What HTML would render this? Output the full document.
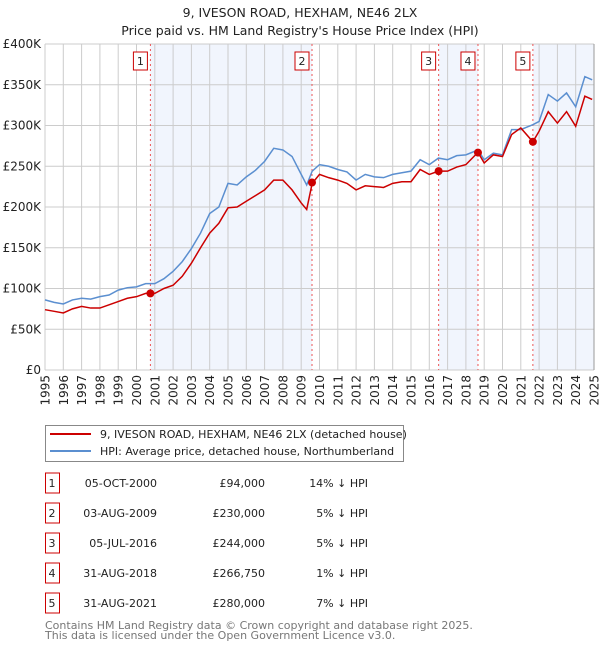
<!DOCTYPE html>
<html><head><meta charset="utf-8"><style>
body{margin:0;background:#fff;font-family:"DejaVu Sans","Liberation Sans",sans-serif;}
svg text{font-family:"DejaVu Sans","Liberation Sans",sans-serif;}
</style></head><body>
<svg id="chart" width="600" height="650" xmlns="http://www.w3.org/2000/svg">
<text x="300" y="17" text-anchor="middle" font-size="12.5" fill="#222">9, IVESON ROAD, HEXHAM, NE46 2LX</text>
<text x="300" y="35" text-anchor="middle" font-size="12.5" fill="#222">Price paid vs. HM Land Registry's House Price Index (HPI)</text>
<g id="plot"></g>
<g>
<rect x="45.5" y="425.5" width="358" height="36" fill="#fff" stroke="#888"/>
<line x1="50" y1="434" x2="91" y2="434" stroke="#cc0000" stroke-width="2"/>
<text x="100" y="438" font-size="11" fill="#222">9, IVESON ROAD, HEXHAM, NE46 2LX (detached house)</text>
<line x1="50" y1="451" x2="91" y2="451" stroke="#5b8fd0" stroke-width="2"/>
<text x="100" y="455" font-size="11" fill="#222">HPI: Average price, detached house, Northumberland</text>
</g>
<g id="table" font-size="11" fill="#222"></g>
<text x="45" y="629" font-size="11" fill="#777">Contains HM Land Registry data © Crown copyright and database right 2025.</text>
<text x="45" y="639" font-size="11" fill="#777">This data is licensed under the Open Government Licence v3.0.</text>
</svg>
<script>
const hpiYears=[1995,1995.5,1996,1996.5,1997,1997.5,1998,1998.5,1999,1999.5,2000,2000.5,2001,2001.5,2002,2002.5,2003,2003.5,2004,2004.5,2005,2005.5,2006,2006.5,2007,2007.5,2008,2008.5,2009,2009.3,2009.6,2010,2010.5,2011,2011.5,2012,2012.5,2013,2013.5,2014,2014.5,2015,2015.5,2016,2016.5,2017,2017.5,2018,2018.66,2019,2019.5,2020,2020.5,2021,2021.66,2022,2022.5,2023,2023.5,2024,2024.5,2024.9];
const hpiValues=[86000,83000,81000,86000,88000,87000,90000,92000,98000,101000,102000,106000,106000,112000,121000,133000,149000,168000,192000,200000,229000,227000,237000,245000,256000,272000,270000,262000,240000,227000,244000,252000,250000,246000,243000,233000,240000,237000,236000,240000,242000,244000,258000,252000,260000,258000,263000,264000,270000,258000,266000,264000,295000,295000,301000,305000,338000,330000,340000,323000,360000,356000];
const priceYears=hpiYears;
const priceValues=[74000,72000,70000,75000,78000,76000,76000,80000,84000,88000,90000,94000,94000,100000,104000,115000,131000,150000,168000,180000,199000,200000,207000,214000,221000,233000,233000,221000,205000,197000,229000,240000,236000,233000,229000,221000,226000,225000,224000,229000,231000,231000,246000,240000,244000,244000,249000,252000,267000,254000,264000,262000,289000,297000,280000,293000,317000,303000,317000,299000,336000,332000];
const saleNums=["1","2","3","4","5"];
const saleYears=[2000.76,2009.59,2016.51,2018.66,2021.66];
const saleValues=[94000,230000,244000,266750,280000];
const saleDates=["05-OCT-2000","03-AUG-2009","05-JUL-2016","31-AUG-2018","31-AUG-2021"];
const salePrices=["£94,000","£230,000","£244,000","£266,750","£280,000"];
const salePcts=["14% ↓ HPI","5% ↓ HPI","5% ↓ HPI","1% ↓ HPI","7% ↓ HPI"];
const yTicks=[0,50000,100000,150000,200000,250000,300000,350000,400000];
const yTickLabels=["£0","£50K","£100K","£150K","£200K","£250K","£300K","£350K","£400K"];
const xTicks=[1995,1996,1997,1998,1999,2000,2001,2002,2003,2004,2005,2006,2007,2008,2009,2010,2011,2012,2013,2014,2015,2016,2017,2018,2019,2020,2021,2022,2023,2024,2025];

const L=45,R=594,T=44,B=370;
const x=v=>L+(v-1995)/30*(R-L);
const y=v=>B-v/400000*(B-T);
const NS="http://www.w3.org/2000/svg";
const plot=document.getElementById('plot');
function mk(tag,attrs,parent){const e=document.createElementNS(NS,tag);for(const k in attrs)e.setAttribute(k,attrs[k]);(parent||plot).appendChild(e);return e;}

const spans=[[0,1],[2,3],[4,null]];
spans.forEach(s=>{
  const x0=x(saleYears[s[0]]),x1=s[1]===null?R:x(saleYears[s[1]]);
  const r=mk('rect',{x:x0,y:T,width:x1-x0,height:B-T,fill:'#eef3fd',opacity:0.8});
  
  
});
xTicks.forEach(t=>{
  const l=mk('line',{x1:x(t),x2:x(t),y1:T,y2:B,stroke:'#ccc','stroke-width':1});
  
  
  const px=x(t)+4.5,py=B+5;
  const tx=mk('text',{x:px,y:py,'text-anchor':'end','font-size':12,fill:'#222',transform:'rotate(-90 '+px+' '+py+')'});
  tx.textContent=t;
  
  
});
yTicks.forEach((t,i)=>{
  const l=mk('line',{x1:L,x2:R,y1:y(t),y2:y(t),stroke:'#ccc','stroke-width':1});
  
  
  const tx=mk('text',{x:L-4,y:y(t)+4,'text-anchor':'end','font-size':12,fill:'#222'});
  tx.textContent=yTickLabels[i];
  
  
});
mk('line',{x1:R,x2:R,y1:T,y2:B,stroke:'#999','stroke-width':1});
saleYears.forEach((s,i)=>{
  const l=mk('line',{x1:x(s),x2:x(s),y1:T,y2:B,stroke:'#ee5555','stroke-width':1,'stroke-dasharray':'2,3'});
  
  
  const bx=x(s)-10;
  const r=mk('rect',{x:bx-7,y:52,width:14,height:18,fill:'#fff',stroke:'#cc0000'});
  
  
  const t=mk('text',{x:bx,y:65,'text-anchor':'middle','font-size':11,fill:'#222'});
  t.textContent=saleNums[i];
  
  
});
const hp=mk('polyline',{points:hpiYears.map((v,i)=>x(v)+','+y(hpiValues[i])).join(' '),fill:'none',stroke:'#5b8fd0','stroke-width':1.5});


const pp=mk('polyline',{points:priceYears.map((v,i)=>x(v)+','+y(priceValues[i])).join(' '),fill:'none',stroke:'#cc0000','stroke-width':1.5});


saleYears.forEach((s,i)=>{
  const c=mk('circle',{cx:x(s),cy:y(saleValues[i]),r:4,fill:'#cc0000'});
  
  
});
const tb=document.getElementById('table');
saleNums.forEach((n,i)=>{
  const cy=483+i*30;
  const r=mk('rect',{x:45.5,y:cy-10,width:14,height:20,fill:'#fff',stroke:'#cc0000'},tb);
  
  
  const cells=[[52,'middle',n,'row-number'],[157,'end',saleDates[i],'row-date'],[265,'end',salePrices[i],'row-price'],[368,'end',salePcts[i],'row-hpi-diff']];
  cells.forEach(c=>{
    const t=mk('text',{x:c[0],y:cy+4,'text-anchor':c[1]},tb);
    t.textContent=c[2];
    
    
  });
});
</script>
</body></html>
